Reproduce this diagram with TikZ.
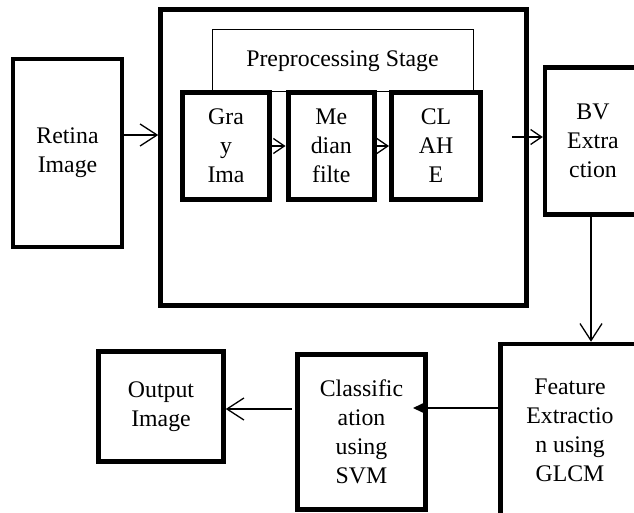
\documentclass[tikz,border=0pt]{standalone}
\usepackage{fontspec}
\setmainfont{Liberation Serif}
\usetikzlibrary{arrows.meta}
\begin{document}
\begin{tikzpicture}[x=1pt,y=-1pt,
  txt/.style={font=\fontsize{23.8}{29}\selectfont, align=center, inner sep=0pt},
  bigbox/.style={txt, draw, line width=4.5pt, fill=white},
  subbox/.style={txt, draw, line width=5pt, fill=white},
  thinbox/.style={txt, draw, line width=1pt},
  conn/.style={line width=1.3pt},
  barb/.style={conn, -{Straight Barb[length=17pt,width=22pt,line width=1.3pt]}},
  smallbarb/.style={conn, -{Straight Barb[length=11pt,width=15pt,line width=1.3pt]}},
  tri/.style={conn, -{Triangle[length=13pt,width=12pt]}}]
\clip (0,0) rectangle (634,513);
\fill[white] (0,0) rectangle (634,513);
% outer boxes
\node[bigbox, minimum width=109pt, minimum height=188pt] (ret) at (67.5,153) {Retina\\Image};
\node[bigbox, minimum width=366pt, minimum height=296pt] (big) at (343.5,157.5) {};
\node[thinbox, minimum width=261pt, minimum height=62pt, fill=white] (pre) at (342.5,61) {Preprocessing Stage};
\node[subbox, minimum width=87pt, minimum height=107pt] (gray) at (226,146) {Gra\\y\\Ima};
\node[subbox, minimum width=86.5pt, minimum height=107pt] (med) at (331.25,146) {Me\\dian\\filte};
\node[subbox, minimum width=89pt, minimum height=107pt] (clahe) at (436,146) {CL\\AH\\E};
\node[bigbox, minimum width=96pt, minimum height=147pt] (bv) at (593,141) {BV\\Extra\\ction};
\node[bigbox, minimum width=139pt, minimum height=172pt] (feat) at (570,430) {Feature\\Extractio\\n using\\GLCM};
\node[bigbox, minimum width=128pt, minimum height=155pt] (cls) at (361.5,432) {Classific\\ation\\using\\SVM};
\node[bigbox, minimum width=125pt, minimum height=110pt] (out) at (161,406.5) {Output\\Image};
% connectors
\coordinate (a1) at (124,135);
\draw[barb] (a1) -- (a1 -| big.west);
\draw[smallbarb] (gray.east) -- (med.west);
\draw[smallbarb] (med.east) -- (clahe.west);
\coordinate (a2) at (512,137);
\draw[smallbarb] (a2) -- (a2 -| bv.west);
\coordinate (a3) at (591,217);
\draw[barb] (a3) -- (a3 |- feat.north);
\coordinate (a4) at (413,408);
\draw[tri] (feat.west |- a4) -- (a4);
\coordinate (a5) at (292,409);
\draw[barb] (a5) -- (a5 -| out.east);
\end{tikzpicture}
\end{document}
